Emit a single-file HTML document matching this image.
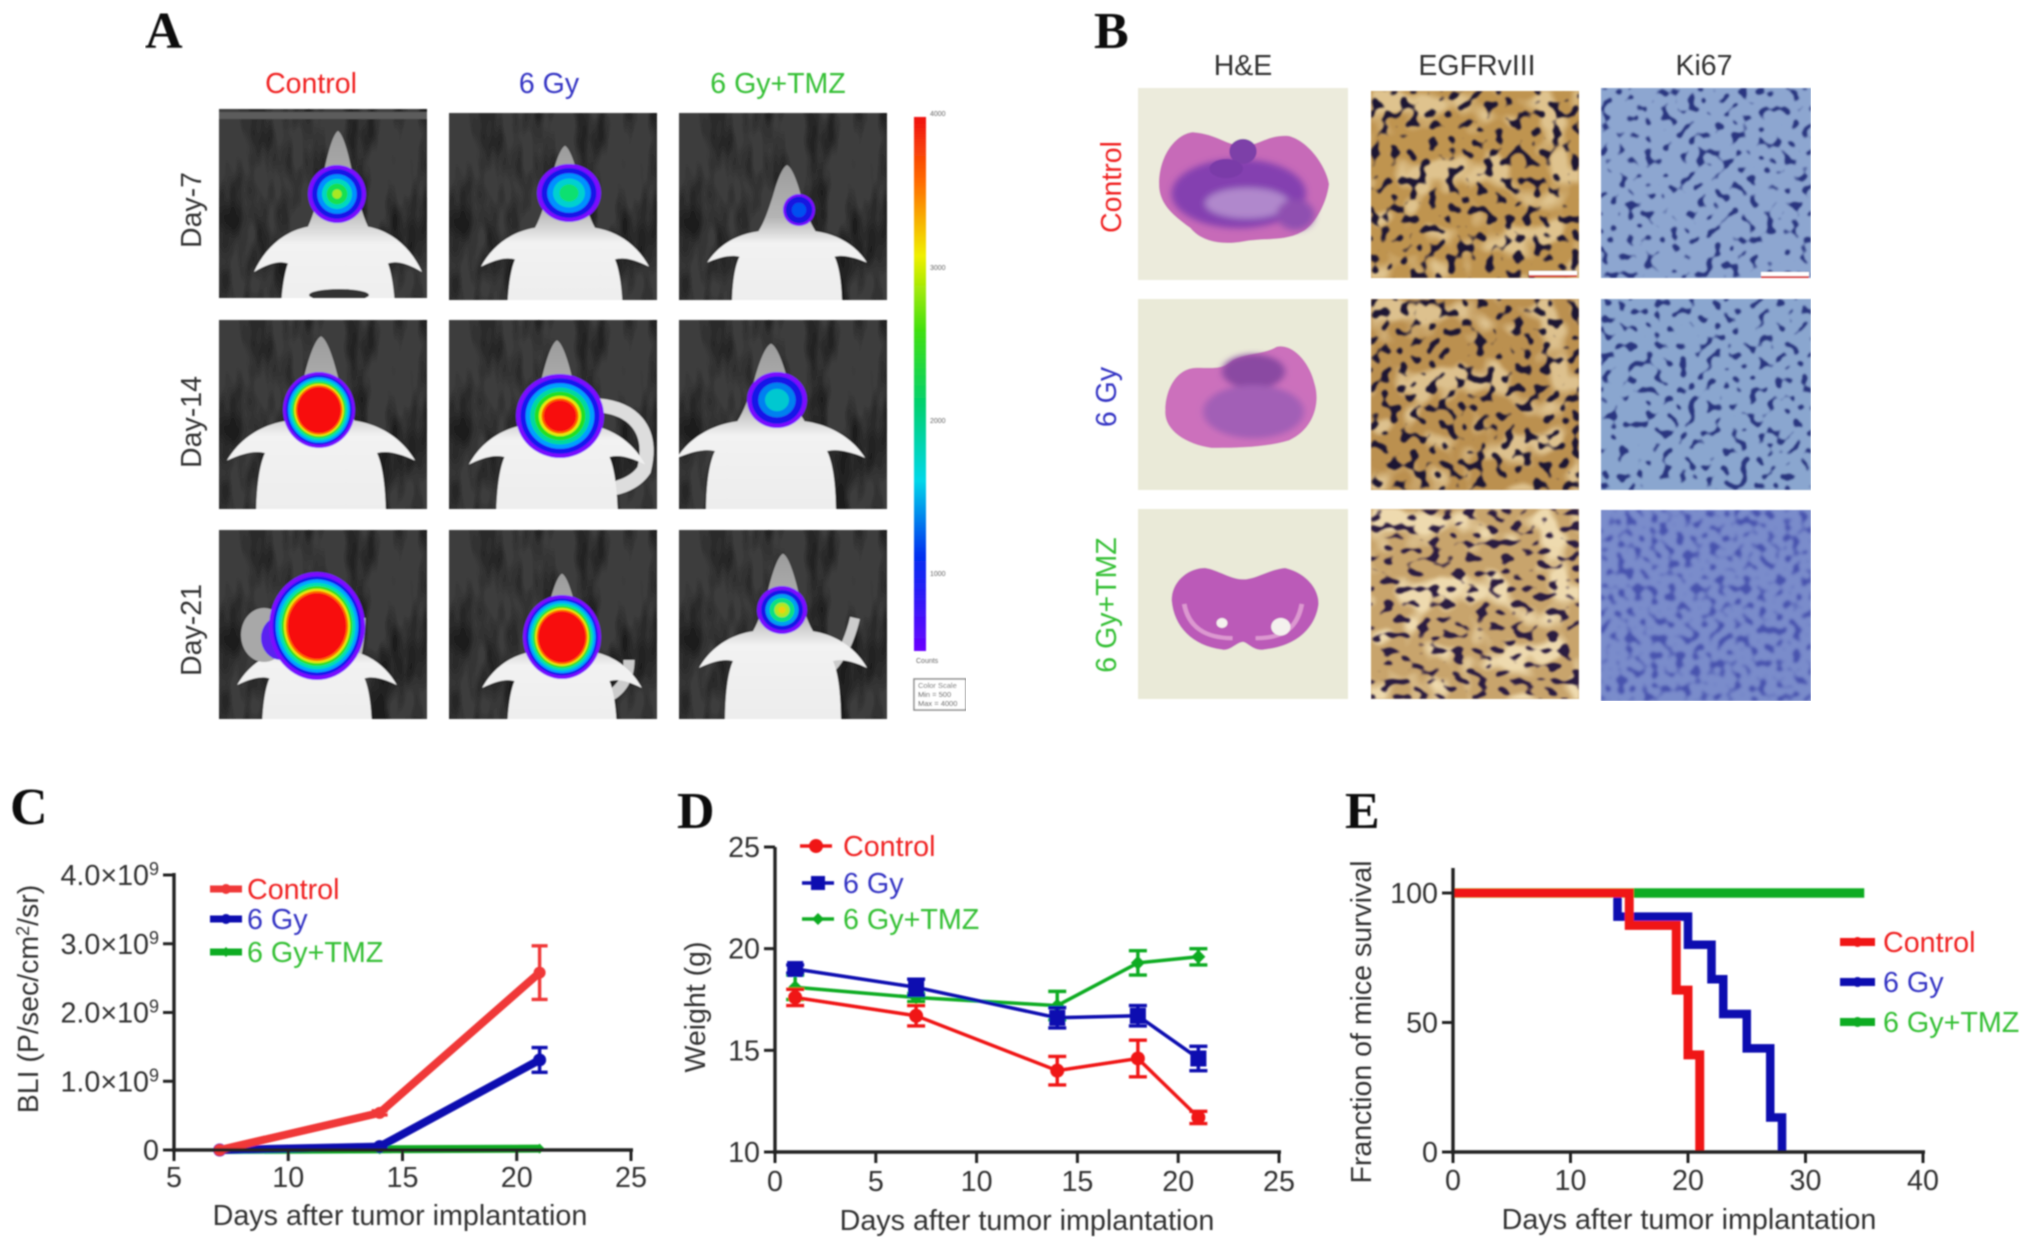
<!DOCTYPE html>
<html lang="en">
<head>
<meta charset="utf-8">
<title>Tumor response figure</title>
<style>
html,body{margin:0;padding:0;background:#fff}
svg#figure{display:block;width:2031px;height:1248px;font-family:"Liberation Sans",sans-serif}
.soft{filter:url(#soft)}
.letter{font-family:"Liberation Serif",serif;font-weight:bold;font-size:52px;fill:#111}
.lab{font-size:28.5px}
.dark{fill:#333}
.red{fill:#f02424}.blue{fill:#3434c4}.green{fill:#34c034}
</style>
</head>
<body>
<svg id="figure" xmlns="http://www.w3.org/2000/svg" width="2031" height="1248" viewBox="0 0 2031 1248">
<defs>
<filter id="soft" x="0" y="0" width="100%" height="100%"><feGaussianBlur stdDeviation="0.8"/></filter>
<filter id="s2" x="-10%" y="-10%" width="120%" height="120%"><feGaussianBlur stdDeviation="1.6"/></filter>

<filter id="nE1" x="0" y="0" width="100%" height="100%" color-interpolation-filters="sRGB"><feTurbulence type="fractalNoise" baseFrequency=".105" numOctaves="1" seed="3"/><feColorMatrix values="0 0 0 0 .12 0 0 0 0 .09 0 0 0 0 .2 13 0 0 0 -7.2"/><feGaussianBlur stdDeviation=".9"/></filter>
<filter id="nE2" x="0" y="0" width="100%" height="100%" color-interpolation-filters="sRGB"><feTurbulence type="fractalNoise" baseFrequency=".105" numOctaves="1" seed="11"/><feColorMatrix values="0 0 0 0 .12 0 0 0 0 .09 0 0 0 0 .2 13 0 0 0 -7.2"/><feGaussianBlur stdDeviation=".9"/></filter>
<filter id="nE3" x="0" y="0" width="100%" height="100%" color-interpolation-filters="sRGB"><feTurbulence type="fractalNoise" baseFrequency=".085 .13" numOctaves="1" seed="23"/><feColorMatrix values="0 0 0 0 .17 0 0 0 0 .1 0 0 0 0 .25 13 0 0 0 -7.2"/><feGaussianBlur stdDeviation=".9"/></filter>
<filter id="nK1" x="0" y="0" width="100%" height="100%" color-interpolation-filters="sRGB"><feTurbulence type="fractalNoise" baseFrequency=".115" numOctaves="1" seed="7"/><feColorMatrix values="0 0 0 0 .16 0 0 0 0 .21 0 0 0 0 .5 13 0 0 0 -7.5"/><feGaussianBlur stdDeviation=".9"/></filter>
<filter id="nK2" x="0" y="0" width="100%" height="100%" color-interpolation-filters="sRGB"><feTurbulence type="fractalNoise" baseFrequency=".115" numOctaves="1" seed="15"/><feColorMatrix values="0 0 0 0 .16 0 0 0 0 .21 0 0 0 0 .5 13 0 0 0 -7.5"/><feGaussianBlur stdDeviation=".9"/></filter>
<filter id="nK3" x="0" y="0" width="100%" height="100%" color-interpolation-filters="sRGB"><feTurbulence type="fractalNoise" baseFrequency=".12" numOctaves="1" seed="31"/><feColorMatrix values="0 0 0 0 .28 0 0 0 0 .32 0 0 0 0 .68 8 0 0 0 -4.2"/><feGaussianBlur stdDeviation="1.2"/></filter>
<filter id="nBg" x="0" y="0" width="100%" height="100%" color-interpolation-filters="sRGB"><feTurbulence type="fractalNoise" baseFrequency=".03" numOctaves="2" seed="5"/><feColorMatrix values="0 0 0 0 1 0 0 0 0 .95 0 0 0 0 .8 6 0 0 0 -3"/><feGaussianBlur stdDeviation="1"/></filter>
<filter id="nGrain" x="0" y="0" width="100%" height="100%" color-interpolation-filters="sRGB"><feTurbulence type="fractalNoise" baseFrequency=".04 .012" numOctaves="3" seed="9"/><feColorMatrix values="0 0 0 0 .1 0 0 0 0 .1 0 0 0 0 .1 3 0 0 0 -1.3"/></filter>

<linearGradient id="mouseFill" gradientUnits="userSpaceOnUse" x1="0" y1="-130" x2="0" y2="190">
<stop offset="0" stop-color="#9a9a9a"/><stop offset=".3" stop-color="#b4b4b4"/><stop offset=".44" stop-color="#f2f2f2"/><stop offset=".8" stop-color="#ececec"/><stop offset="1" stop-color="#bdbdbd"/>
</linearGradient>
<linearGradient id="scaleFill" x1="0" y1="0" x2="0" y2="1">
<stop offset="0" stop-color="#f01010"/><stop offset=".12" stop-color="#ff6a00"/><stop offset=".26" stop-color="#f0f000"/><stop offset=".4" stop-color="#40e010"/><stop offset=".54" stop-color="#00d070"/><stop offset=".68" stop-color="#00d8e8"/><stop offset=".82" stop-color="#0030f0"/><stop offset="1" stop-color="#6a00ff"/>
</linearGradient>

<path id="mouse" fill="url(#mouseFill)" d="M0,-124C5,-120 10,-100 15,-70C20,-45 24,-25 30,-10C56,-4 74,18 84,44C70,34 58,30 50,34C58,60 60,120 56,200L-56,200C-60,120 -58,60 -50,34C-58,30 -70,34 -84,44C-74,18 -56,-4 -30,-10C-24,-25 -20,-45 -15,-70C-10,-100 -5,-120 0,-124Z"/>

<g id="blob-blue"><circle r="1" fill="#7a10ff"/><circle r=".84" fill="#1414e0"/><circle r=".45" fill="#0050f0"/></g>
<g id="blob-teal"><circle r="1" fill="#7a10ff"/><circle r=".86" fill="#1414e8"/><circle r=".68" fill="#0090ff"/><circle r=".5" fill="#00d0d0"/><circle r=".3" fill="#10e070"/></g>
<g id="blob-green"><circle r="1" fill="#7a10ff"/><circle r=".86" fill="#1414e8"/><circle r=".68" fill="#0090ff"/><circle r=".52" fill="#00d8c0"/><circle r=".36" fill="#18e050"/><circle r=".16" fill="#a8e820"/></g>
<g id="blob-yellow"><circle r="1" fill="#7a10ff"/><circle r=".84" fill="#1414e8"/><circle r=".66" fill="#00a0f0"/><circle r=".5" fill="#10e080"/><circle r=".3" fill="#b0e820"/><circle r=".14" fill="#f0d010"/></g>
<g id="blob-red-big"><circle r="1" fill="#7a10ff"/><circle r=".92" fill="#1414f0"/><circle r=".86" fill="#00a8ff"/><circle r=".8" fill="#00e0b0"/><circle r=".74" fill="#30e020"/><circle r=".69" fill="#e8e810"/><circle r=".65" fill="#ff7000"/><circle r=".61" fill="#f80808"/></g>
<g id="blob-red-mid"><circle r="1" fill="#7a10ff"/><circle r=".9" fill="#1414f0"/><circle r=".78" fill="#00a0ff"/><circle r=".68" fill="#00d8a0"/><circle r=".58" fill="#20e020"/><circle r=".48" fill="#e8e810"/><circle r=".42" fill="#ff6000"/><circle r=".37" fill="#f80808"/></g>
<g id="blob-blue-green"><circle r="1" fill="#7a10ff"/><circle r=".85" fill="#1818e8"/><circle r=".62" fill="#0080f0"/><circle r=".4" fill="#00c8d0"/></g>
</defs>

<rect width="2031" height="1248" fill="#fff"/>

<g class="soft">
  <text class="letter" x="145" y="48">A</text>
  <text class="lab red" x="311" y="93" text-anchor="middle">Control</text>
  <text class="lab blue" x="549" y="93" text-anchor="middle">6 Gy</text>
  <text class="lab green" x="778" y="93" text-anchor="middle">6 Gy+TMZ</text>
  <text class="lab dark" transform="translate(201,210) rotate(-90)" text-anchor="middle">Day-7</text>
  <text class="lab dark" transform="translate(201,422) rotate(-90)" text-anchor="middle">Day-14</text>
  <text class="lab dark" transform="translate(201,630) rotate(-90)" text-anchor="middle">Day-21</text>

  <svg x="219" y="109" width="208" height="189"><rect width="208" height="189" fill="#3d3d3d"/><rect width="208" height="189" filter="url(#nGrain)"/><rect width="208" height="7" y="3" fill="#5c5c5c"/><use href="#mouse" transform="translate(119,126) scale(1,.84)"/><ellipse cx="120" cy="186" rx="30" ry="6" fill="#333"/><use href="#blob-green" transform="translate(118,85) scale(29,29)"/></svg>
  <svg x="449" y="113" width="208" height="187"><rect width="208" height="187" fill="#3d3d3d"/><rect width="208" height="187" filter="url(#nGrain)"/><use href="#mouse" transform="translate(116,122) scale(1,.72)"/><use href="#blob-teal" transform="translate(120,80) scale(32,29)"/></svg>
  <svg x="679" y="113" width="208" height="187"><rect width="208" height="187" fill="#3d3d3d"/><rect width="208" height="187" filter="url(#nGrain)"/><use href="#mouse" transform="translate(108,124) scale(.95,.58)"/><use href="#blob-blue" transform="translate(120,97) scale(16,16)"/></svg>

  <svg x="219" y="320" width="208" height="189"><rect width="208" height="189" fill="#3d3d3d"/><rect width="208" height="189" filter="url(#nGrain)"/><use href="#mouse" transform="translate(102,108) scale(1.12,.74)"/><use href="#blob-red-big" transform="translate(100,90) scale(36,38)"/></svg>
  <svg x="449" y="320" width="208" height="189"><rect width="208" height="189" fill="#3d3d3d"/><rect width="208" height="189" filter="url(#nGrain)"/><path d="M140,85C185,85 205,110 195,150C185,165 165,170 150,170" fill="none" stroke="#ddd" stroke-width="14"/><use href="#mouse" transform="translate(108,112) scale(1.05,.74)"/><use href="#blob-red-mid" transform="translate(111,96) scale(44,42)"/></svg>
  <svg x="679" y="320" width="208" height="189"><rect width="208" height="189" fill="#3d3d3d"/><rect width="208" height="189" filter="url(#nGrain)"/><use href="#mouse" transform="translate(92,108) scale(1.12,.68)"/><use href="#blob-blue-green" transform="translate(98,80) scale(30,28)"/></svg>

  <svg x="219" y="530" width="208" height="189"><rect width="208" height="189" fill="#3d3d3d"/><rect width="208" height="189" filter="url(#nGrain)"/><path d="M130,160C138,130 142,105 142,88" fill="none" stroke="#bbb" stroke-width="9"/><use href="#mouse" transform="translate(98,126) scale(.95,.66)"/><ellipse cx="45" cy="105" rx="23" ry="27" fill="#a8a8a8"/><ellipse cx="62" cy="108" rx="20" ry="22" fill="#5a20f0"/><use href="#blob-red-big" transform="translate(98,96) scale(48,54)"/></svg>
  <svg x="449" y="530" width="208" height="189"><rect width="208" height="189" fill="#3d3d3d"/><rect width="208" height="189" filter="url(#nGrain)"/><path d="M150,170C170,165 180,150 180,130" fill="none" stroke="#ccc" stroke-width="11"/><use href="#mouse" transform="translate(113,128) scale(.95,.68)"/><use href="#blob-red-big" transform="translate(113,107) scale(39,42)"/></svg>
  <svg x="679" y="530" width="208" height="189"><rect width="208" height="189" fill="#3d3d3d"/><rect width="208" height="189" filter="url(#nGrain)"/><path d="M150,140C165,125 172,105 176,88" fill="none" stroke="#ccc" stroke-width="10"/><use href="#mouse" transform="translate(104,108) scale(1,.68)"/><use href="#blob-yellow" transform="translate(103,80) scale(25,24)"/></svg>

  <rect x="914" y="117" width="12" height="534" fill="url(#scaleFill)"/>
  <g font-size="7" fill="#666">
    <text x="930" y="116">4000</text>
    <text x="930" y="270">3000</text>
    <text x="930" y="423">2000</text>
    <text x="930" y="576">1000</text>
    <text x="916" y="663">Counts</text>
  </g>
  <g>
    <rect x="914" y="679" width="52" height="31" fill="#fff" stroke="#888" stroke-width="1.5"/>
    <text x="918" y="688" font-size="7.5" fill="#666">Color Scale</text>
    <text x="918" y="697" font-size="7.5" fill="#444">Min = 500</text>
    <text x="918" y="706" font-size="7.5" fill="#444">Max = 4000</text>
  </g>
</g>

<g class="soft">
  <text class="letter" x="1094" y="48">B</text>
  <text class="lab dark" x="1243" y="75" text-anchor="middle">H&amp;E</text>
  <text class="lab dark" x="1477" y="75" text-anchor="middle">EGFRvIII</text>
  <text class="lab dark" x="1704" y="75" text-anchor="middle">Ki67</text>
  <text class="lab red" transform="translate(1121,187) rotate(-90)" text-anchor="middle">Control</text>
  <text class="lab blue" transform="translate(1116,397) rotate(-90)" text-anchor="middle">6 Gy</text>
  <text class="lab green" transform="translate(1116,605) rotate(-90)" text-anchor="middle">6 Gy+TMZ</text>

  <svg x="1138" y="88" width="210" height="192" viewBox="0 0 100 100" preserveAspectRatio="none">
    <rect width="100" height="100" fill="#ecebdc"/>
    <path fill="#c76ab8" d="M10,50C10,35 18,24 26,23C38,24 42,30 50,30C58,30 62,24 72,25C82,28 90,42 91,50C90,60 84,72 78,75C70,80 60,78 50,80C40,82 30,80 25,73C16,66 10,60 10,50Z"/>
    <g filter="url(#s2)"><ellipse cx="48" cy="55" rx="32" ry="18" fill="#8440b0"/><ellipse cx="52" cy="60" rx="20" ry="8" fill="#b088cc"/><ellipse cx="75" cy="66" rx="9" ry="8" fill="#8f50b0"/></g>
    <ellipse cx="50" cy="33" rx="6.5" ry="6.5" fill="#7d3fa8"/>
    <ellipse cx="42" cy="42" rx="8" ry="5" fill="#7a3aa8"/>
  </svg>
  <svg x="1138" y="299" width="210" height="191" viewBox="0 0 100 100" preserveAspectRatio="none">
    <rect width="100" height="100" fill="#eaead8"/>
    <path fill="#cc70bc" d="M13,58C13,48 18,36 28,36C36,36 40,37 45,32C52,28 60,29 66,25C74,23 82,34 84,44C87,54 84,68 72,74C60,78 45,78 35,78C22,76 12,68 13,58Z"/>
    <g filter="url(#s2)"><ellipse cx="55" cy="38" rx="15" ry="9" fill="#8a48a2"/><ellipse cx="55" cy="59" rx="24" ry="14" fill="#a25fb6"/></g>
  </svg>
  <svg x="1138" y="509" width="210" height="190" viewBox="0 0 100 100" preserveAspectRatio="none">
    <rect width="100" height="100" fill="#eaead8"/>
    <path fill="#bb5ab8" d="M16,48C16,38 24,31 32,31C38,32 44,37 50,37C56,37 62,32 70,31C78,33 86,40 86,50C85,60 78,72 60,74C55,75 52,70 50,70C47,70 44,75 40,74C26,72 17,62 16,48Z"/>
    <path d="M22,50C24,62 32,68 45,68M78,50C76,62 70,68 56,68" fill="none" stroke="#dc98d0" stroke-width="2.2"/>
    <circle cx="40" cy="60" r="2.6" fill="#f4f1ee"/>
    <circle cx="68" cy="62" r="4.6" fill="#f4f1ee"/>
  </svg>

  <svg x="1371" y="91" width="208" height="187"><rect width="208" height="187" fill="#bf9450"/><rect width="208" height="187" filter="url(#nBg)" opacity=".5"/><rect width="208" height="187" filter="url(#nE1)"/><rect x="158" y="180" width="48" height="5" fill="#fff"/><rect x="158" y="184" width="48" height="2" fill="#d84040"/></svg>
  <svg x="1371" y="299" width="208" height="191"><rect width="208" height="191" fill="#bb9050"/><rect width="208" height="191" filter="url(#nBg)" opacity=".5"/><rect width="208" height="191" filter="url(#nE2)"/></svg>
  <svg x="1371" y="509" width="208" height="190"><rect width="208" height="190" fill="#c8a46c"/><rect width="208" height="190" filter="url(#nBg)" opacity=".7"/><rect width="208" height="190" filter="url(#nE3)"/></svg>

  <svg x="1601" y="88" width="210" height="190"><rect width="210" height="190" fill="#8da6d0"/><rect width="210" height="190" filter="url(#nK1)"/><rect x="160" y="184" width="48" height="5" fill="#fff"/><rect x="160" y="188" width="48" height="2" fill="#d84040"/></svg>
  <svg x="1601" y="299" width="210" height="191"><rect width="210" height="191" fill="#8aa6cf"/><rect width="210" height="191" filter="url(#nK2)"/></svg>
  <svg x="1601" y="510" width="210" height="191"><rect width="210" height="191" fill="#7a8ccb"/><rect width="210" height="191" filter="url(#nK3)"/></svg>
</g>

<g id="charts" class="soft">
  <text class="letter" x="10" y="824">C</text>
  <text class="letter" x="677" y="828">D</text>
  <text class="letter" x="1345" y="828">E</text>
</g>
</svg>

<script>
// Chart C: bioluminescence
const bliDays = [7, 14, 21];
const bliControl = [0, 0.54, 2.58];
const bliControlErr = [0, 0.03, 0.39];
const bli6Gy = [0, 0.05, 1.31];
const bli6GyErr = [0, 0.02, 0.18];
const bliTmz = [0, 0.01, 0.02];
const bliTmzErr = [0, 0, 0];
const bliXTicks = [5, 10, 15, 20, 25];
const bliYTicks = [0, 1, 2, 3, 4];
const bliYTickLabels = ['0', '1.0×10', '2.0×10', '3.0×10', '4.0×10'];

// Chart D: body weight
const weightDays = [1, 7, 14, 18, 21];
const weightControl = [17.6, 16.7, 14.0, 14.6, 11.7];
const weightControlErr = [0.4, 0.5, 0.7, 0.9, 0.3];
const weight6Gy = [19.0, 18.1, 16.6, 16.7, 14.6];
const weight6GyErr = [0.2, 0.4, 0.5, 0.5, 0.6];
const weightTmz = [18.1, 17.6, 17.2, 19.3, 19.6];
const weightTmzErr = [0.6, 0.2, 0.7, 0.6, 0.4];
const weightXTicks = [0, 5, 10, 15, 20, 25];
const weightYTicks = [10, 15, 20, 25];

// Chart E: survival
const survTimeControl = [0, 15, 19, 20, 21];
const survValueControl = [100, 87.5, 62.5, 37.5, 0];
const survTime6Gy = [0, 14, 20, 22, 23, 25, 27, 28];
const survValue6Gy = [100, 90.9, 80, 66.7, 53.3, 40, 13.3, 0];
const survTimeTmz = [0, 35];
const survValueTmz = [100, 100];
const survXTicks = [0, 10, 20, 30, 40];
const survYTicks = [0, 50, 100];

const COL = { red: '#f03838', pure: '#f01818', blue: '#0808b0', green: '#10ac20', lred: '#f02424', lblue: '#3434c4', lgreen: '#34c034', ink: '#333' };
const NS = 'http://www.w3.org/2000/svg';
const root = document.getElementById('charts');

function scale(d0, d1, r0, r1) { return v => r0 + (v - d0) * (r1 - r0) / (d1 - d0); }

function shape(parent, tag, name, props) {
  const node = document.createElementNS(NS, tag);
  
  
  for (const k in props) node.setAttribute(k, props[k]);
  parent.appendChild(node);
  return node;
}
function label(parent, name, x, y, str, anchor, fill) {
  const t = shape(parent, 'text', name, { x: x, y: y, 'text-anchor': anchor, fill: fill, 'font-size': 28.7 });
  t.textContent = str;
  return t;
}
function axes(g, prefix, sx, sy, xTicks, yTicks, yLabels, xDomain, yBottom, yTopPx, labelGapY, labelGapX) {
  const y0 = sy(yBottom);
  shape(g, 'line', prefix + '-x-axis', { x1: sx(xDomain[0]) - 2, x2: sx(xDomain[1]) + 2, y1: y0, y2: y0, stroke: '#222', 'stroke-width': 3.4 });
  shape(g, 'line', prefix + '-y-axis', { x1: sx(xDomain[0]), x2: sx(xDomain[0]), y1: yTopPx, y2: y0 + 2, stroke: '#222', 'stroke-width': 3.4 });
  xTicks.forEach(v => {
    shape(g, 'line', prefix + '-x-tick', { x1: sx(v), x2: sx(v), y1: y0, y2: y0 + 11, stroke: '#222', 'stroke-width': 3 });
    label(g, prefix + '-x-tick-label', sx(v), y0 + labelGapY, String(v), 'middle', COL.ink);
  });
  yTicks.forEach((v, i) => {
    shape(g, 'line', prefix + '-y-tick', { x1: sx(xDomain[0]) - 11, x2: sx(xDomain[0]), y1: sy(v), y2: sy(v), stroke: '#222', 'stroke-width': 3 });
    const t = label(g, prefix + '-y-tick-label', sx(xDomain[0]) - labelGapX, sy(v) + 10, yLabels ? yLabels[i] : String(v), 'end', COL.ink);
    if (yLabels && v !== 0) {
      const sup = document.createElementNS(NS, 'tspan');
      
      
      sup.setAttribute('dy', '-10');
      sup.setAttribute('font-size', '18');
      sup.textContent = '9';
      t.appendChild(sup);
    }
  });
}
function series(g, prefix, sx, sy, xs, ys, errs, color, width, capW, marker, msize) {
  const pts = xs.map((x, i) => sx(x) + ',' + sy(ys[i])).join(' ');
  shape(g, 'polyline', prefix + '-line', { points: pts, fill: 'none', stroke: color, 'stroke-width': width, 'stroke-linejoin': 'round' });
  xs.forEach((x, i) => {
    const cx = sx(x), cy = sy(ys[i]);
    if (errs[i] > 0) {
      const hi = sy(ys[i] + errs[i]), lo = sy(ys[i] - errs[i]);
      shape(g, 'line', prefix + '-error-bar', { x1: cx, x2: cx, y1: hi, y2: lo, stroke: color, 'stroke-width': 3.4 });
      shape(g, 'line', prefix + '-error-cap', { x1: cx - capW, x2: cx + capW, y1: hi, y2: hi, stroke: color, 'stroke-width': 3.4 });
      shape(g, 'line', prefix + '-error-cap', { x1: cx - capW, x2: cx + capW, y1: lo, y2: lo, stroke: color, 'stroke-width': 3.4 });
    }
    drawMarker(g, prefix + '-point', cx, cy, color, marker, msize);
  });
}
function drawMarker(g, name, cx, cy, color, marker, s) {
  if (marker === 'square') shape(g, 'rect', name, { x: cx - s, y: cy - s, width: 2 * s, height: 2 * s, fill: color });
  else if (marker === 'diamond') shape(g, 'polygon', name, { points: [cx, cy - s, cx + s, cy, cx, cy + s, cx - s, cy].join(','), fill: color });
  else shape(g, 'circle', name, { cx: cx, cy: cy, r: s, fill: color });
}
function legendRow(g, prefix, x1, x2, y, tx, str, color, textColor, width, marker, msize) {
  shape(g, 'line', prefix + '-legend-line', { x1: x1, x2: x2, y1: y, y2: y, stroke: color, 'stroke-width': width });
  drawMarker(g, prefix + '-legend-marker', (x1 + x2) / 2, y, color, marker, msize);
  label(g, prefix + '-legend-label', tx, y + 10, str, 'start', textColor);
}
function stepPoints(sx, sy, ts, vs) {
  const out = [];
  ts.forEach((t, i) => {
    if (i > 0) out.push(sx(t) + ',' + sy(vs[i - 1]));
    out.push(sx(t) + ',' + sy(vs[i]));
  });
  return out.join(' ');
}
function titleY(g, name, x, y, str) {
  const t = shape(g, 'text', name, { transform: 'translate(' + x + ',' + y + ') rotate(-90)', 'text-anchor': 'middle', fill: COL.ink, 'font-size': 28.5 });
  t.textContent = str;
  return t;
}

/* Chart C */
(function () {
  const g = shape(root, 'g', 'bli-chart', {});
  const sx = scale(5, 25, 174, 631);
  const sy = scale(0, 4, 1150, 875);
  series(g, 'bli-tmz', sx, sy, bliDays, bliTmz, bliTmzErr, COL.green, 8, 8, 'diamond', 5);
  series(g, 'bli-6gy', sx, sy, bliDays, bli6Gy, bli6GyErr, COL.blue, 8, 8, 'circle', 6.5);
  series(g, 'bli-control', sx, sy, bliDays, bliControl, bliControlErr, COL.red, 8, 8, 'circle', 6);
  axes(g, 'bli', sx, sy, bliXTicks, bliYTicks, bliYTickLabels, [5, 25], 0, 873, 37, 15);
  label(g, 'bli-x-title', 400, 1225, 'Days after tumor implantation', 'middle', COL.ink);
  const yt = titleY(g, 'bli-y-title', 38, 999, 'BLI (P/sec/cm');
  const sq = document.createElementNS(NS, 'tspan');
  
  
  sq.setAttribute('dy', '-9');
  sq.setAttribute('font-size', '18');
  sq.textContent = '2';
  yt.appendChild(sq);
  const tail = document.createElementNS(NS, 'tspan');
  
  
  tail.setAttribute('dy', '9');
  tail.textContent = '/sr)';
  yt.appendChild(tail);
  legendRow(g, 'bli-control', 210, 242, 889, 247, 'Control', COL.red, COL.lred, 7, 'circle', 5);
  legendRow(g, 'bli-6gy', 210, 242, 919, 247, '6 Gy', COL.blue, COL.lblue, 7, 'circle', 5);
  legendRow(g, 'bli-tmz', 210, 242, 952, 247, '6 Gy+TMZ', COL.green, COL.lgreen, 7, 'diamond', 5);
})();

/* Chart D */
(function () {
  const g = shape(root, 'g', 'weight-chart', {});
  const sx = scale(0, 25, 775, 1279);
  const sy = scale(10, 25, 1152, 847);
  series(g, 'weight-tmz', sx, sy, weightDays, weightTmz, weightTmzErr, COL.green, 3.5, 9, 'diamond', 7);
  series(g, 'weight-6gy', sx, sy, weightDays, weight6Gy, weight6GyErr, COL.blue, 3.5, 9, 'square', 8);
  series(g, 'weight-control', sx, sy, weightDays, weightControl, weightControlErr, COL.pure, 3.5, 9, 'circle', 7);
  axes(g, 'weight', sx, sy, weightXTicks, weightYTicks, null, [0, 25], 10, 847, 39, 15);
  label(g, 'weight-x-title', 1027, 1230, 'Days after tumor implantation', 'middle', COL.ink);
  titleY(g, 'weight-y-title', 705, 1007, 'Weight (g)');
  legendRow(g, 'weight-control', 800, 832, 846, 843, 'Control', COL.pure, COL.lred, 3.5, 'circle', 7);
  legendRow(g, 'weight-6gy', 802, 834, 883, 843, '6 Gy', COL.blue, COL.lblue, 3.5, 'square', 7);
  legendRow(g, 'weight-tmz', 802, 834, 919, 843, '6 Gy+TMZ', COL.green, COL.lgreen, 3.5, 'diamond', 6);
})();

/* Chart E */
(function () {
  const g = shape(root, 'g', 'survival-chart', {});
  const sx = scale(0, 40, 1453, 1923);
  const sy = scale(0, 100, 1152, 893);
  shape(g, 'polyline', 'survival-tmz-line', { points: stepPoints(sx, sy, survTimeTmz, survValueTmz), fill: 'none', stroke: COL.green, 'stroke-width': 9.5 });
  shape(g, 'polyline', 'survival-6gy-line', { points: stepPoints(sx, sy, survTime6Gy, survValue6Gy), fill: 'none', stroke: COL.blue, 'stroke-width': 8.5 });
  shape(g, 'polyline', 'survival-control-line', { points: stepPoints(sx, sy, survTimeControl, survValueControl), fill: 'none', stroke: COL.pure, 'stroke-width': 9 });
  axes(g, 'survival', sx, sy, survXTicks, survYTicks, null, [0, 40], 0, 868, 38, 15);
  label(g, 'survival-x-title', 1689, 1229, 'Days after tumor implantation', 'middle', COL.ink);
  titleY(g, 'survival-y-title', 1371, 1022, 'Franction of mice survival');
  legendRow(g, 'survival-control', 1840, 1875, 942, 1883, 'Control', COL.pure, COL.lred, 8, 'circle', 5);
  legendRow(g, 'survival-6gy', 1840, 1875, 982, 1883, '6 Gy', COL.blue, COL.lblue, 8, 'circle', 5);
  legendRow(g, 'survival-tmz', 1840, 1875, 1022, 1883, '6 Gy+TMZ', COL.green, COL.lgreen, 8, 'circle', 5);
})();
</script>
</body>
</html>
